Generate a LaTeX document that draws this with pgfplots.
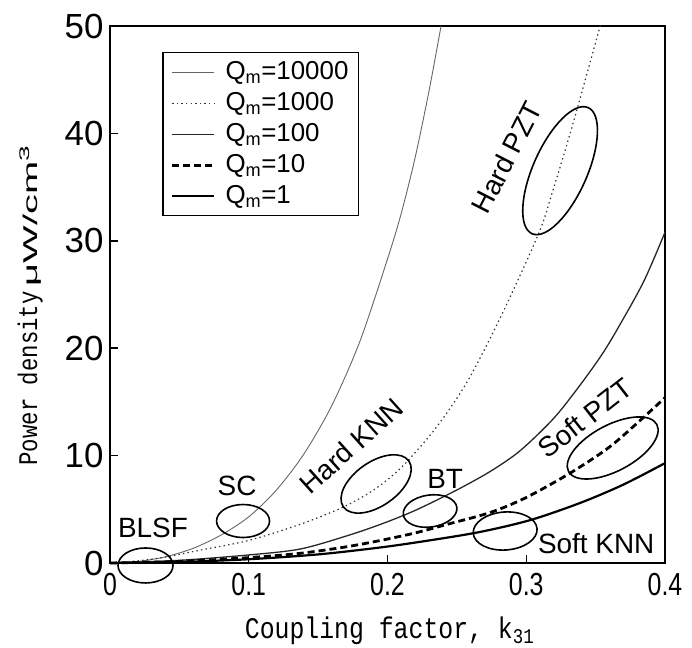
\documentclass[border=0pt]{standalone}
\usepackage{fontspec}
\setmainfont{Liberation Sans}
\newfontfamily\gothic{Liberation Mono}
\usepackage{graphicx}
\usepackage{pgfplots}
\pgfplotsset{compat=1.18}
\usetikzlibrary{shapes.geometric}
\newcommand\xt[1]{\scalebox{0.78}[1]{\fontsize{32}{32}\selectfont #1}}
\begin{document}
\begin{tikzpicture}
\begin{axis}[
  at={(0,0)}, anchor=south west,
  scale only axis, width=555bp, height=537bp,
  xmin=0, xmax=0.4, ymin=0, ymax=50,
  xtick={0,0.1,0.2,0.3,0.4},
  xticklabels={\xt{0},\xt{0.1},\xt{0.2},\xt{0.3},\xt{0.4}},
  ytick={0,10,20,30,40,50},
  yticklabels={0,10,20,30,40,50},
  tick align=inside, xtick pos=left, ytick pos=left,
  major tick length=8bp,
  axis line style={line width=2bp},
  every tick/.style={black, line width=1.5bp},
  x tick label style={yshift=-7bp},
  y tick label style={font=\fontsize{35}{35}\selectfont, xshift=-3bp},
  clip=false,
  legend style={at={(rel axis cs:0.0937,0.9516)}, anchor=north west,
    draw=black, line width=1.5bp, font=\fontsize{26}{26}\selectfont,
    inner xsep=8bp, inner ysep=6bp, row sep=4bp, column sep=8bp,
    nodes={inner sep=2bp, text height=19bp, text depth=4bp}},
  legend cell align=left,
  legend image code/.code={\draw[#1] (0bp,0bp) -- (42bp,0bp);},
]
\addplot[smooth, color=black!60, line width=0.9bp] coordinates {
(0,0) (0.02,0.14) (0.04,0.58) (0.06,1.37) (0.08,2.6) (0.1,4.3) (0.12,6.8)
(0.14,10.2) (0.16,14.7) (0.18,20.6) (0.2,28.3) (0.21,32.6) (0.22,37.8)
(0.23,44.0) (0.2386,50)};
\addlegendentry{Q\textsubscript{m}=10000}
\addplot[smooth, color=black!80, line width=1.2bp, dash pattern=on 1.4bp off 3.2bp] coordinates {
(0,0) (0.02,0.2) (0.04,0.55) (0.065,1.2) (0.1,2.1) (0.137,3.6) (0.168,5.2)
(0.19,6.8) (0.21,8.9) (0.235,12.6) (0.258,17.0) (0.283,23.3) (0.309,30.7)
(0.319,34.6) (0.333,40.6) (0.352,49.4) (0.3535,50)};
\addlegendentry{Q\textsubscript{m}=1000}
\addplot[smooth, color=black!85, line width=1.3bp] coordinates {
(0,0) (0.05,0.25) (0.1,0.75) (0.137,1.3) (0.17,2.5) (0.195,3.6) (0.22,4.9)
(0.25,6.8) (0.275,8.6) (0.296,10.5) (0.32,13.5) (0.339,16.6) (0.355,19.5)
(0.368,22.3) (0.385,26.3) (0.4,30.8)};
\addlegendentry{Q\textsubscript{m}=100}
\addplot[smooth, color=black, line width=2.8bp, dash pattern=on 7bp off 4bp] coordinates {
(0,0) (0.05,0.15) (0.1,0.5) (0.137,0.9) (0.17,1.5) (0.195,2.1) (0.22,2.8)
(0.243,3.6) (0.274,4.7) (0.3,6.1) (0.332,8.4) (0.36,10.8) (0.384,13.5) (0.4,15.4)};
\addlegendentry{Q\textsubscript{m}=10}
\addplot[smooth, color=black, line width=2.2bp] coordinates {
(0,0) (0.05,0.1) (0.1,0.35) (0.15,0.8) (0.195,1.45) (0.23,2.1) (0.267,2.9)
(0.303,4.0) (0.339,5.6) (0.37,7.3) (0.4,9.3)};
\addlegendentry{Q\textsubscript{m}=1}

% ellipses
\tikzset{ell/.style={draw=black, ellipse, line width=1.6bp, inner sep=0pt}}
\node[ell, minimum width=55bp, minimum height=35bp] at (axis cs:0.0256,-0.23) {};
\node[ell, minimum width=53bp, minimum height=33bp] at (axis cs:0.0959,3.91) {};
\node[ell, minimum width=80bp, minimum height=44bp, rotate=35] at (axis cs:0.1918,7.36) {};
\node[ell, minimum width=54bp, minimum height=32bp, rotate=8] at (axis cs:0.2307,4.84) {};
\node[ell, minimum width=64bp, minimum height=38bp, rotate=4] at (axis cs:0.2848,2.98) {};
\node[ell, minimum width=100bp, minimum height=46bp, rotate=28] at (axis cs:0.3623,10.71) {};
\node[ell, minimum width=138bp, minimum height=54bp, rotate=66] at (axis cs:0.3244,36.53) {};

% labels
\tikzset{lab/.style={font=\fontsize{28}{28}\selectfont, inner sep=0pt}}
\node[lab] at (axis cs:0.031,3.31) {BLSF};
\node[lab] at (axis cs:0.0916,7.17) {SC};
\node[lab, rotate=42] at (axis cs:0.1738,10.9) {Hard KNN};
\node[lab] at (axis cs:0.2415,7.82) {BT};
\node[lab, rotate=38] at (axis cs:0.3425,13.5) {Soft PZT};
\node[lab] at (axis cs:0.3504,1.77) {Soft KNN};
\node[lab, rotate=63] at (axis cs:0.2858,37.76) {Hard PZT};

% axis labels
\node[rotate=90, anchor=center] at (rel axis cs:-0.144,0.48)
  {\scalebox{0.83}[1]{\gothic\fontsize{27}{27}\selectfont Power density}\hspace{5bp}\scalebox{2.0}[1]{\fontsize{20}{20}\selectfont μW/cm\textsuperscript{3}}};
\node[anchor=base] at (rel axis cs:0.5036,-0.1397)
  {\scalebox{0.83}[1]{\gothic\fontsize{30}{30}\selectfont Coupling factor, k\textsubscript{31}}};
\end{axis}
\useasboundingbox (-110bp,-83bp) rectangle (582bp,563bp);
\end{tikzpicture}
\end{document}
